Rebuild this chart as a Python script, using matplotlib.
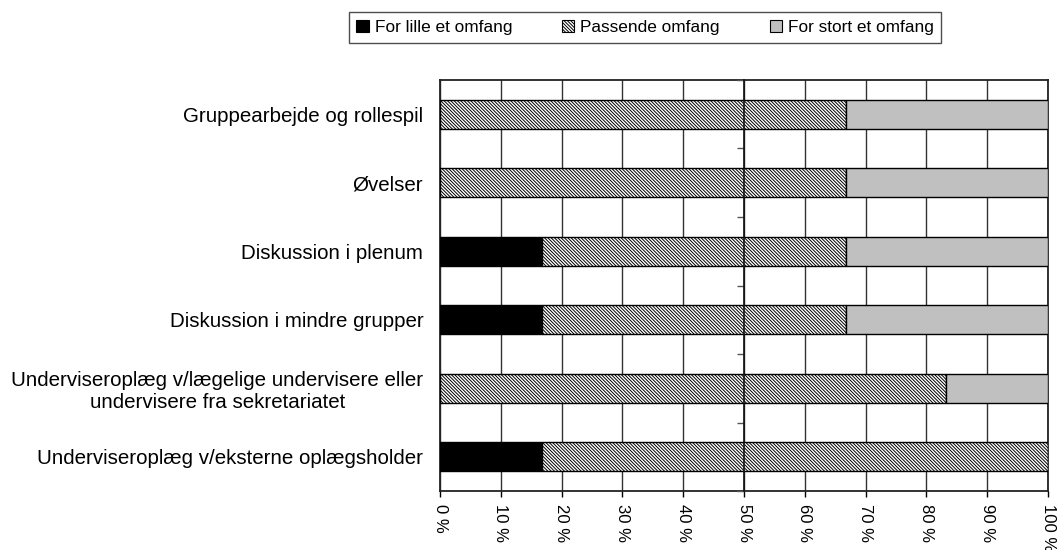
import matplotlib
matplotlib.use('Agg')
import matplotlib.pyplot as plt
from matplotlib.patches import Patch
import numpy as np

plt.rcParams['font.family'] = ['Liberation Sans', 'DejaVu Sans']
plt.rcParams['hatch.linewidth'] = 0.7

categories = [
    'Gruppearbejde og rollespil',
    'Øvelser',
    'Diskussion i plenum',
    'Diskussion i mindre grupper',
    'Underviseroplæg v/lægelige undervisere eller\nundervisere fra sekretariatet',
    'Underviseroplæg v/eksterne oplægsholder',
]
for_lille = [0.0, 0.0, 16.7, 16.7, 0.0, 16.7]
passende = [66.7, 66.7, 50.0, 50.0, 83.3, 83.3]
for_stort = [33.3, 33.3, 33.3, 33.3, 16.7, 0.0]
series_names = ['For lille et omfang', 'Passende omfang', 'For stort et omfang']
xticks = np.arange(0, 101, 10)
xtick_labels = ['{0} %'.format(v) for v in xticks]

fig = plt.figure(figsize=(10.58, 5.5), dpi=100)
ax = fig.add_axes([440 / 1058, 1 - 491 / 550, 608 / 1058, 411 / 550])

y = np.arange(len(categories))[::-1]
h = 0.43
left = np.zeros(len(categories))
styles = [
    dict(color='black', hatch=None),
    dict(color='white', hatch='\\' * 10),
    dict(color='#c0c0c0', hatch=None),
]
for vals, st in zip([for_lille, passende, for_stort], styles):
    vals = np.array(vals)
    ax.barh(y, vals, height=h, left=left, color=st['color'], hatch=st['hatch'],
            edgecolor='black', linewidth=1.0, zorder=3)
    left += vals

ax.set_xlim(0, 100)
ax.set_ylim(-0.5, len(categories) - 0.5)
ax.set_xticks(xticks)
ax.set_xticklabels(xtick_labels, rotation=-90, fontsize=12)
ax.tick_params(axis='x', length=4, width=1, direction='out', pad=5)
ax.set_yticks(y)
ax.set_yticklabels(categories, fontsize=14.8)
ax.tick_params(axis='y', length=0, pad=12)
for lbl in ax.get_yticklabels():
    lbl.set_multialignment('center')

ax.grid(axis='x', color='#333333', linewidth=1.0, zorder=0)
for sp in ax.spines.values():
    sp.set_linewidth(1.3)
    sp.set_color('#222222')

# the category axis crosses at 50 %
sec = ax.secondary_yaxis(0.5)
sec.set_zorder(4)
sec.set_yticks(np.arange(len(categories) + 1) - 0.5)
sec.set_yticklabels([])
sec.yaxis.set_ticks_position('left')
sec.tick_params(axis='y', left=True, right=False, length=5, width=1,
                direction='out', color='#555555')
for sp in sec.spines.values():
    sp.set_linewidth(1.2)
    sp.set_color('#111111')

handles = [Patch(facecolor=st['color'], hatch=st['hatch'], edgecolor='black',
                 linewidth=0.8) for st in styles]
fig.legend(handles, series_names, loc='center', bbox_to_anchor=(645 / 1058, 1 - 27.5 / 550),
           ncol=3, fontsize=12.4, frameon=True, fancybox=False, edgecolor='#222222',
           handlelength=0.7, handleheight=0.7, handletextpad=0.35, columnspacing=2.9,
           borderpad=0.45, borderaxespad=0.0)

fig.savefig('out.png', dpi=100)
